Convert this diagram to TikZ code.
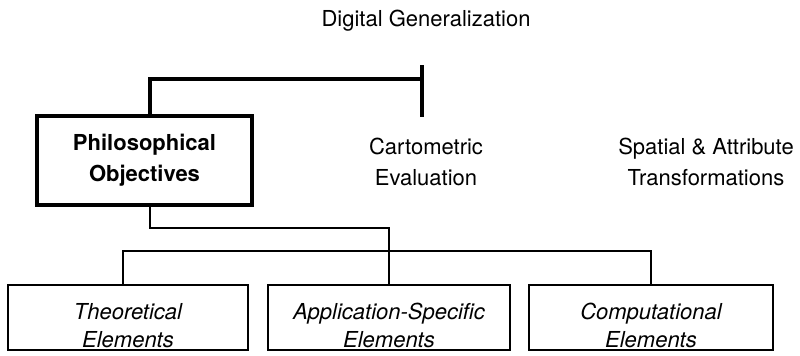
\documentclass[tikz,border=0pt]{standalone}
\usepackage{fontspec}
\setmainfont{TeX Gyre Heros}
% tall strut that lowers the two-line text inside the element boxes
\newcommand{\lowerstrut}{\rule{0pt}{24pt}}
\begin{document}
\begin{tikzpicture}[x=0.75pt,y=-0.75pt,
  lbl/.style={align=center,font=\fontsize{16.5}{23}\selectfont},
  mainbox/.style={draw,align=center,line width=2.8pt,inner sep=0pt,font=\bfseries\fontsize{16.5}{23}\selectfont},
  elembox/.style={draw,align=center,line width=1.3pt,inner sep=0pt,minimum height=48.75pt,font=\itshape\fontsize{16.5}{21}\selectfont},
  heavy/.style={line width=2.8pt},
  light/.style={line width=1.3pt}]
\useasboundingbox (0,0) rectangle (800,355);

% top label
\node[lbl] (title) at (426,21) {Digital Generalization};

% three second-level headings
\node[mainbox,minimum width=161.25pt,minimum height=66.75pt] (phil) at (144.5,160.5) {Philosophical\\Objectives};
\node[lbl] (carto) at (426,162) {Cartometric\\Evaluation};
\node[lbl] (spat) at (706,162) {Spatial \& Attribute\\Transformations};

% element boxes
\node[elembox,minimum width=180pt] (theo) at (128,317.5) {\lowerstrut Theoretical\\Elements};
\node[elembox,minimum width=181.5pt] (appl) at (389,317.5) {\lowerstrut Application-Specific\\Elements};
\node[elembox,minimum width=183pt] (comp) at (651,317.5) {\lowerstrut Computational\\Elements};

% bracket joining the objectives box to the generalization bar
\coordinate (tickTop) at (422,65);
\coordinate (tickBot) at (422,117);
\coordinate (bend) at (150,79);
\draw[heavy] (tickTop) -- (tickBot);
\draw[heavy] (bend |- phil.north) -- (bend) -- (bend -| tickTop);

% tree from the objectives box down to the elements
\coordinate (drop) at (150,228);
\coordinate (bus) at (0,251);
\coordinate (tx) at (123,0);
\coordinate (cx) at (651,0);
\draw[light] (drop |- phil.south) -- (drop) -- (drop -| appl.north) -- (appl.north);
\draw[light] (tx |- theo.north) -- (tx |- bus) -- (cx |- bus) -- (cx |- comp.north);
\end{tikzpicture}
\end{document}
